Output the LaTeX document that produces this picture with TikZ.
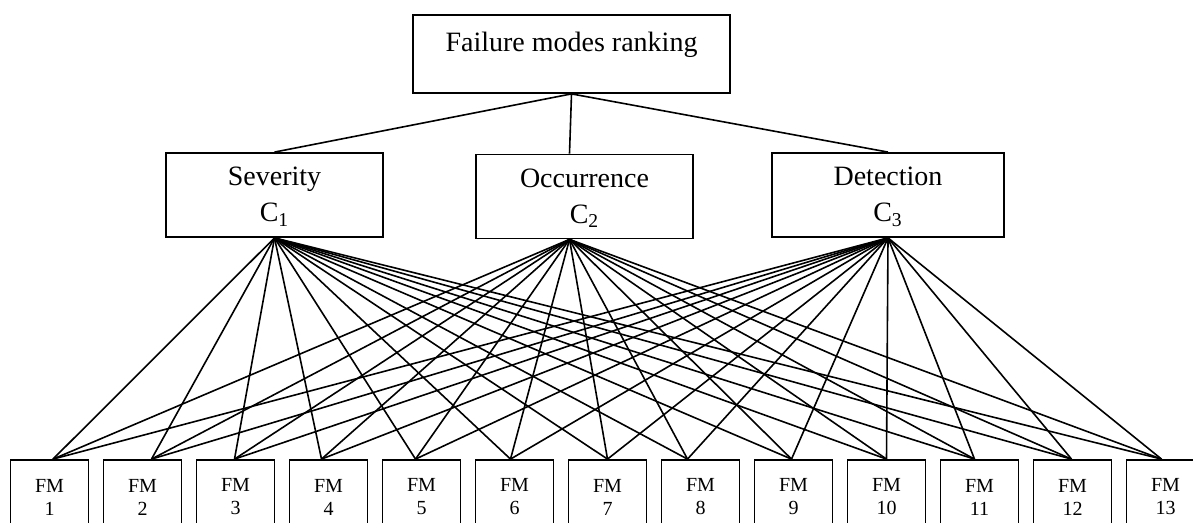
\documentclass[tikz,border=0pt]{standalone}
\usepackage{fontspec}
\setmainfont{Liberation Serif}
\begin{document}
\begin{tikzpicture}[x=0.5pt,y=-0.5pt,
	goalnode/.style={rectangle, draw, line width=0.9pt, minimum width=158.5pt, minimum height=39pt, inner sep=0pt, font=\fontsize{14}{17}\selectfont, text height=10pt, text depth=12pt},
	critnode/.style={rectangle, draw, line width=0.9pt, minimum height=42pt, inner sep=0pt, align=center, font=\fontsize{14}{18}\selectfont, text height=30pt, text depth=3pt},
	fmnode/.style={rectangle, draw, line width=0.9pt, minimum width=39pt, minimum height=37pt, inner sep=0pt, align=center, font=\fontsize{10}{11.5}\selectfont},
	link/.style={line width=0.8pt},
	]
	\useasboundingbox (0,0) rectangle (1193,523);
	\clip (0,0) rectangle (1193,523);

	%Nodes
	\node[goalnode] (goal) at (571.5,54) {Failure modes ranking};
	\node[critnode, minimum width=108.5pt] (sev) at (274.5,195) {Severity\\C\textsubscript{1}};
	\node[critnode, minimum width=108.5pt] (occ) at (584.5,196.5) {Occurrence\\C\textsubscript{2}};
	\node[critnode, minimum width=116pt] (det) at (888,195) {Detection\\C\textsubscript{3}};
	\foreach \i/\dx in {1/3.5,2/9,3/-1,4/-7,5/-6,6/-4,7/0,8/-13,9/-2,10/0,11/-5,12/-1,13/-4} {
		\node[fmnode] (fm\i) at ({49.5+93*(\i-1)},497) {FM\\\i};
		\coordinate (fmt\i) at ([xshift={\dx*0.5pt}]fm\i.north);
	}
	\coordinate (occt) at ([xshift=-7.5pt]occ.north);
	\coordinate (occb) at ([xshift=-7.5pt]occ.south);

	%Lines
	\draw[link] (goal.south) -- (sev.north);
	\draw[link] (goal.south) -- (occt);
	\draw[link] (goal.south) -- (det.north);
	\foreach \c in {sev.south,occb,det.south}
		\foreach \i in {1,...,13}
			\draw[link] (\c) -- (fmt\i);

\end{tikzpicture}
\end{document}
